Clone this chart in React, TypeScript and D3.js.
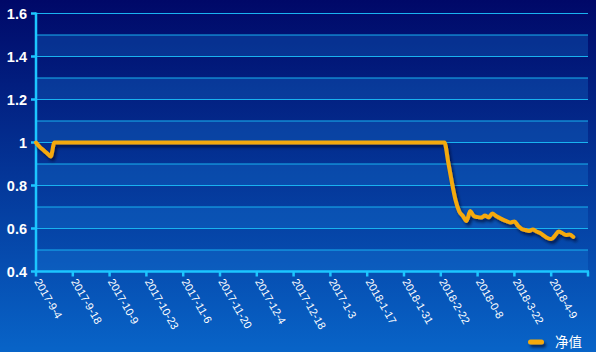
import * as d3 from 'd3';
import React, { useEffect, useRef } from 'react';

const tickLabels = [
  '2017-9-4', '2017-9-18', '2017-10-9', '2017-10-23', '2017-11-6',
  '2017-11-20', '2017-12-4', '2017-12-18', '2017-1-3', '2018-1-17',
  '2018-1-31', '2018-2-22', '2018-0-8', '2018-3-22', '2018-4-9',
];

// trading-day index of each point, and the net value at that day
const dayIndex = [
  0, 1, 2, 3, 4, 5, 111, 112, 113, 114, 115, 116, 117, 118, 119, 120,
  121, 122, 123, 124, 125, 126, 127, 128, 129, 130, 131, 132, 133, 134,
  135, 136, 137, 138, 139, 140, 141, 142, 143, 144, 145, 146,
];
const netValue = [
  1.0, 0.98, 0.965, 0.95, 0.935, 1.0, 1.0, 0.91, 0.816, 0.733, 0.68, 0.658,
  0.635, 0.681, 0.658, 0.653, 0.651, 0.66, 0.652, 0.67, 0.658, 0.649,
  0.64, 0.633, 0.628, 0.633, 0.612, 0.598, 0.593, 0.588, 0.595, 0.586,
  0.579, 0.567, 0.556, 0.551, 0.567, 0.586, 0.579, 0.57, 0.572, 0.561,
];

const yTicks = [0.4, 0.6, 0.8, 1, 1.2, 1.4, 1.6];
const seriesName = '净值';

const width = 596;
const height = 352;
const left = 36;
const right = 588;
const top = 13.5;
const bottom = 271.5;
const lineColor = '#f5a90c';
const axisColor = '#1cc6ff';

const NetValueChart = () => {
  const svgRef = useRef<SVGSVGElement>(null);

  useEffect(() => {
    const svg = d3.select(svgRef.current);
    svg.selectAll('*').remove();

    const xScale = d3.scaleLinear().domain([0, 150]).range([left, right]);
    const yScale = d3.scaleLinear().domain([0.4, 1.6]).range([bottom, top]);

    const defs = svg.append('defs');
    const grad = defs.append('linearGradient')
      .attr('id', 'bg')
      .attr('x1', 0).attr('y1', 0).attr('x2', 0).attr('y2', 1);
    grad.append('stop').attr('offset', '0%').attr('stop-color', '#000868');
    grad.append('stop').attr('offset', '100%').attr('stop-color', '#0864c8');

    const shadow = defs.append('filter')
      .attr('id', 'shadow')
      .attr('filterUnits', 'userSpaceOnUse')
      .attr('x', 0).attr('y', 0)
      .attr('width', width).attr('height', height);
    shadow.append('feDropShadow')
      .attr('dx', 2).attr('dy', 3)
      .attr('stdDeviation', 1.6)
      .attr('flood-color', '#000020')
      .attr('flood-opacity', 0.6);

    svg.append('rect')
      .attr('width', width).attr('height', height)
      .attr('fill', 'url(#bg)');

    // alternating bands every 0.1
    const bandEdges = d3.range(4, 16).map(d => d / 10);
    svg.append('g')
      .selectAll('rect')
      .data(bandEdges.filter((d, i) => i % 2 === 0))
      .join('rect')
      .attr('x', left)
      .attr('width', right - left)
      .attr('y', d => yScale(d + 0.1))
      .attr('height', d => yScale(d) - yScale(d + 0.1))
      .attr('fill', '#1a82e0')
      .attr('fill-opacity', 0.28);

    // grid lines
    svg.append('g')
      .selectAll('line')
      .data(d3.range(5, 17).map(d => d / 10))
      .join('line')
      .attr('x1', left).attr('x2', right)
      .attr('y1', d => yScale(d)).attr('y2', d => yScale(d))
      .attr('stroke', '#19b2f0')
      .attr('stroke-width', 1.2);

    // y axis
    const yAxis = svg.append('g');
    yAxis.append('line')
      .attr('x1', left).attr('x2', left)
      .attr('y1', top - 1).attr('y2', bottom + 1)
      .attr('stroke', axisColor).attr('stroke-width', 2.5);
    yAxis.selectAll('.tick')
      .data(yTicks)
      .join('line')
      .attr('x1', left - 5).attr('x2', left)
      .attr('y1', d => yScale(d)).attr('y2', d => yScale(d))
      .attr('stroke', axisColor).attr('stroke-width', 2.5);
    yAxis.selectAll('text')
      .data(yTicks)
      .join('text')
      .attr('x', left - 9)
      .attr('y', d => yScale(d))
      .attr('dy', '0.35em')
      .attr('text-anchor', 'end')
      .attr('fill', '#ffffff')
      .attr('font-family', 'Liberation Sans, Arial, sans-serif')
      .attr('font-weight', 'bold')
      .attr('font-size', 14.5)
      .text(d => String(d));

    // x axis
    const xAxis = svg.append('g');
    xAxis.append('line')
      .attr('x1', left - 1).attr('x2', right + 1)
      .attr('y1', bottom).attr('y2', bottom)
      .attr('stroke', axisColor).attr('stroke-width', 2.5);
    xAxis.selectAll('.tick')
      .data(d3.range(0, 151, 10))
      .join('line')
      .attr('x1', d => xScale(d)).attr('x2', d => xScale(d))
      .attr('y1', bottom).attr('y2', bottom + 5)
      .attr('stroke', axisColor).attr('stroke-width', 2.5);
    xAxis.selectAll('text')
      .data(tickLabels)
      .join('text')
      .attr('transform', (d, i) => `translate(${xScale(i * 10) - 2},${bottom + 10}) rotate(60)`)
      .attr('fill', '#ffffff')
      .attr('font-family', 'Liberation Sans, Arial, sans-serif')
      .attr('font-size', 11)
      .text(d => d);

    // line
    const line = d3.line<number>()
      .x((d, i) => xScale(dayIndex[i]))
      .y(d => yScale(d))
      .curve(d3.curveMonotoneX);

    svg.append('path')
      .datum(netValue)
      .attr('d', line)
      .attr('fill', 'none')
      .attr('stroke', lineColor)
      .attr('stroke-width', 4)
      .attr('stroke-linejoin', 'round')
      .attr('stroke-linecap', 'round')
      .attr('filter', 'url(#shadow)');

    // legend
    const legend = svg.append('g');
    legend.append('rect')
      .attr('x', 528).attr('y', 339.5)
      .attr('width', 16).attr('height', 5)
      .attr('rx', 2.5)
      .attr('fill', lineColor)
      .attr('filter', 'url(#shadow)');
    legend.append('text')
      .attr('x', 555)
      .attr('y', 342)
      .attr('dy', '0.35em')
      .attr('fill', '#ffffff')
      .attr('font-family', 'Noto Sans CJK SC, sans-serif')
      .attr('font-size', 13.5)
      .text(seriesName);
  }, []);

  return <svg ref={svgRef} width={width} height={height} style={{ display: 'block' }} />;
};

export default function App() {
  return (
    <div style={{ position: 'fixed', left: 0, top: 0 }}>
      <NetValueChart />
    </div>
  );
}
